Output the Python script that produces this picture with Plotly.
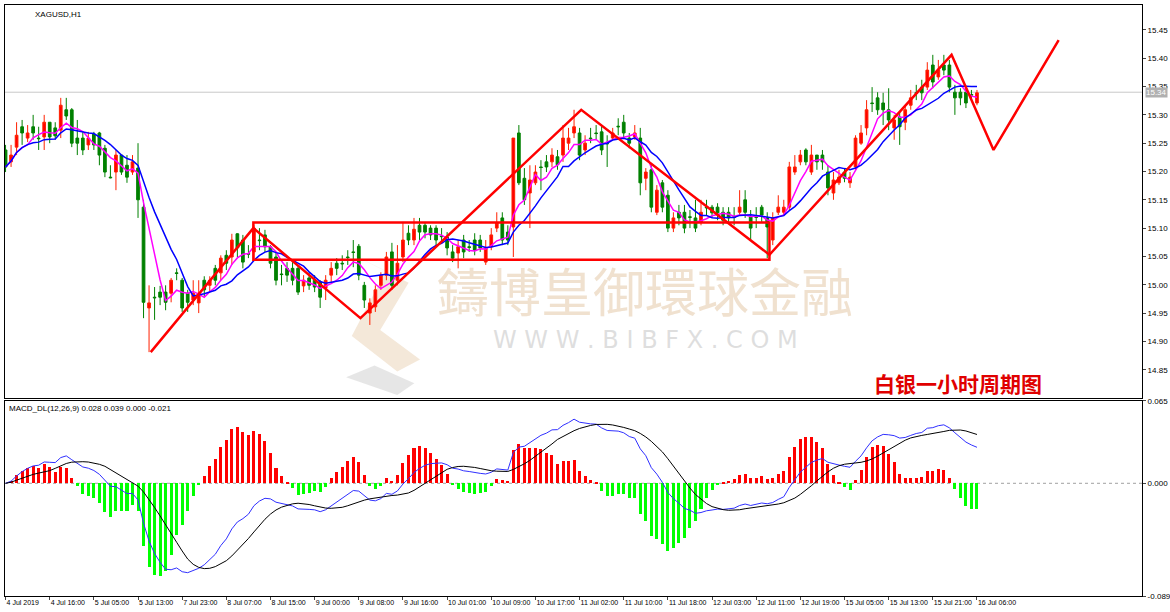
import numpy as np
import pandas as pd
import plotly.graph_objects as go

# XAGUSD H1, candles (index = bar number)
opens = [15.238, 15.217, 15.243, 15.279, 15.259, 15.279, 15.259, 15.261, 15.287, 15.277,
         15.273, 15.309, 15.309, 15.259, 15.259, 15.247, 15.266, 15.268, 15.241, 15.190,
         15.199, 15.229, 15.211, 15.199, 15.206, 15.137, 14.959, 14.978, 14.987, 14.987,
         14.985, 15.021, 15.008, 14.985, 14.973, 14.968, 15.008, 14.999, 15.029, 15.021,
         15.052, 15.049, 15.090, 15.079, 15.055, 15.058, 15.079, 15.088, 15.067, 15.049,
         15.019, 15.029, 15.029, 15.029, 14.998, 15.012, 15.008, 15.005, 14.994, 15.017,
         15.038, 15.038, 15.049, 15.058, 15.068, 14.999, 14.950, 14.961, 14.999, 15.017,
         15.058, 15.008, 15.049, 15.091, 15.079, 15.105, 15.105, 15.100, 15.100, 15.086,
         15.084, 15.058, 15.056, 15.079, 15.067, 15.079, 15.079, 15.040, 15.067, 15.100,
         15.118, 15.093, 15.102, 15.268, 15.188, 15.162, 15.180, 15.208, 15.217, 15.217,
         15.226, 15.229, 15.250, 15.268, 15.268, 15.238, 15.259, 15.268, 15.270, 15.250,
         15.259, 15.280, 15.287, 15.259, 15.261, 15.259, 15.188, 15.203, 15.128, 15.180,
         15.158, 15.100, 15.128, 15.128, 15.120, 15.118, 15.111, 15.137, 15.137, 15.137,
         15.128, 15.128, 15.120, 15.128, 15.150, 15.120, 15.120, 15.137, 15.118, 15.079,
         15.128, 15.128, 15.137, 15.199, 15.217, 15.238, 15.199, 15.229, 15.229, 15.199,
         15.162, 15.180, 15.199, 15.180, 15.208, 15.250, 15.277, 15.321, 15.330, 15.321,
         15.309, 15.277, 15.296, 15.287, 15.317, 15.339, 15.349, 15.349, 15.388, 15.367,
         15.388, 15.388, 15.340, 15.340, 15.340, 15.336, 15.321]
closes = [15.208, 15.229, 15.264, 15.268, 15.268, 15.268, 15.258, 15.287, 15.261, 15.263,
          15.317, 15.298, 15.250, 15.250, 15.238, 15.259, 15.247, 15.229, 15.199, 15.189,
          15.229, 15.199, 15.190, 15.217, 15.150, 14.969, 14.968, 14.977, 14.978, 14.969,
          15.008, 15.020, 14.959, 14.969, 14.985, 14.985, 14.991, 15.008, 15.008, 15.047,
          15.038, 15.079, 15.065, 15.040, 15.054, 15.100, 15.078, 15.067, 15.038, 15.008,
          15.018, 15.017, 15.008, 14.987, 15.008, 14.999, 14.996, 14.978, 15.008, 15.029,
          15.029, 15.037, 15.048, 15.057, 15.017, 14.973, 14.968, 14.991, 15.017, 15.049,
          14.999, 15.038, 15.079, 15.079, 15.098, 15.093, 15.093, 15.088, 15.079, 15.085,
          15.065, 15.047, 15.067, 15.058, 15.066, 15.061, 15.065, 15.065, 15.088, 15.109,
          15.079, 15.079, 15.259, 15.180, 15.150, 15.185, 15.199, 15.207, 15.208, 15.229,
          15.212, 15.259, 15.259, 15.279, 15.229, 15.250, 15.258, 15.267, 15.238, 15.249,
          15.268, 15.279, 15.268, 15.250, 15.268, 15.180, 15.199, 15.137, 15.167, 15.137,
          15.100, 15.118, 15.118, 15.100, 15.119, 15.100, 15.128, 15.136, 15.127, 15.127,
          15.114, 15.118, 15.119, 15.137, 15.128, 15.100, 15.119, 15.123, 15.102, 15.118,
          15.137, 15.137, 15.208, 15.208, 15.229, 15.217, 15.229, 15.217, 15.217, 15.171,
          15.185, 15.190, 15.188, 15.190, 15.259, 15.268, 15.309, 15.320, 15.309, 15.309,
          15.291, 15.291, 15.279, 15.309, 15.330, 15.338, 15.339, 15.379, 15.358, 15.379,
          15.379, 15.349, 15.330, 15.330, 15.321, 15.335, 15.339]
highs = [15.247, 15.247, 15.287, 15.291, 15.282, 15.300, 15.279, 15.300, 15.287, 15.287,
         15.330, 15.330, 15.312, 15.291, 15.270, 15.270, 15.270, 15.270, 15.247, 15.211,
         15.238, 15.229, 15.229, 15.229, 15.250, 15.150, 14.999, 14.996, 14.998, 14.999,
         15.012, 15.029, 15.012, 14.991, 15.008, 15.008, 15.015, 15.015, 15.035, 15.052,
         15.061, 15.090, 15.091, 15.088, 15.070, 15.105, 15.100, 15.097, 15.070, 15.058,
         15.035, 15.040, 15.040, 15.035, 15.017, 15.022, 15.017, 15.008, 15.017, 15.040,
         15.047, 15.052, 15.061, 15.079, 15.072, 15.005, 14.976, 14.999, 15.022, 15.058,
         15.074, 15.070, 15.111, 15.105, 15.118, 15.118, 15.111, 15.105, 15.105, 15.100,
         15.093, 15.070, 15.079, 15.088, 15.079, 15.091, 15.088, 15.079, 15.100, 15.128,
         15.128, 15.105, 15.259, 15.282, 15.206, 15.211, 15.211, 15.220, 15.229, 15.241,
         15.238, 15.282, 15.277, 15.309, 15.277, 15.264, 15.277, 15.282, 15.282, 15.264,
         15.277, 15.294, 15.300, 15.268, 15.282, 15.277, 15.206, 15.211, 15.176, 15.185,
         15.167, 15.128, 15.141, 15.141, 15.132, 15.150, 15.150, 15.150, 15.141, 15.144,
         15.137, 15.137, 15.137, 15.167, 15.167, 15.132, 15.137, 15.141, 15.128, 15.128,
         15.158, 15.150, 15.217, 15.229, 15.238, 15.241, 15.247, 15.229, 15.238, 15.211,
         15.199, 15.203, 15.206, 15.199, 15.264, 15.282, 15.326, 15.349, 15.340, 15.339,
         15.347, 15.300, 15.305, 15.317, 15.344, 15.353, 15.362, 15.393, 15.406, 15.397,
         15.406, 15.397, 15.353, 15.347, 15.347, 15.344, 15.344]
lows = [15.199, 15.208, 15.229, 15.247, 15.252, 15.256, 15.238, 15.238, 15.250, 15.256,
        15.259, 15.291, 15.243, 15.229, 15.229, 15.238, 15.238, 15.211, 15.190, 15.188,
        15.167, 15.194, 15.180, 15.194, 15.118, 14.941, 14.881, 14.938, 14.964, 14.955,
        14.969, 15.008, 14.952, 14.952, 14.964, 14.950, 14.980, 14.987, 14.999, 15.008,
        15.026, 15.035, 15.049, 15.029, 15.047, 15.047, 15.061, 15.058, 15.029, 14.999,
        14.999, 15.005, 14.999, 14.982, 14.987, 14.991, 14.987, 14.959, 14.973, 15.005,
        15.017, 15.026, 15.035, 15.031, 15.008, 14.959, 14.929, 14.952, 14.991, 15.008,
        14.991, 14.999, 15.040, 15.070, 15.070, 15.079, 15.082, 15.079, 15.070, 15.075,
        15.052, 15.040, 15.029, 15.047, 15.058, 15.052, 15.058, 15.035, 15.061, 15.093,
        15.070, 15.070, 15.049, 15.176, 15.141, 15.100, 15.176, 15.167, 15.199, 15.208,
        15.203, 15.217, 15.238, 15.259, 15.220, 15.229, 15.250, 15.256, 15.229, 15.208,
        15.256, 15.264, 15.259, 15.241, 15.256, 15.158, 15.167, 15.128, 15.123, 15.128,
        15.093, 15.093, 15.105, 15.091, 15.100, 15.093, 15.105, 15.123, 15.118, 15.114,
        15.105, 15.111, 15.105, 15.123, 15.118, 15.079, 15.100, 15.111, 15.047, 15.070,
        15.123, 15.123, 15.132, 15.194, 15.211, 15.211, 15.194, 15.203, 15.203, 15.158,
        15.150, 15.176, 15.181, 15.171, 15.203, 15.247, 15.264, 15.305, 15.300, 15.282,
        15.273, 15.256, 15.247, 15.273, 15.309, 15.326, 15.326, 15.344, 15.347, 15.362,
        15.370, 15.340, 15.300, 15.317, 15.312, 15.326, 15.317]

tick_pos = list(range(0, 177, 8))
tick_text = ["4 Jul 2019", "4 Jul 16:00", "5 Jul 05:00", "5 Jul 13:00", "7 Jul 23:00",
             "8 Jul 07:00", "8 Jul 15:00", "9 Jul 00:00", "9 Jul 08:00", "9 Jul 16:00",
             "10 Jul 01:00", "10 Jul 09:00", "10 Jul 17:00", "11 Jul 02:00", "11 Jul 10:00",
             "11 Jul 18:00", "12 Jul 03:00", "12 Jul 11:00", "12 Jul 19:00", "15 Jul 05:00",
             "15 Jul 13:00", "15 Jul 21:00", "16 Jul 06:00"]

# hand-drawn analysis lines (bar index, price)
zig_x = [26.3, 44.9, 64.3, 104.3, 138.4, 171.4, 179.0, 190.8]
zig_y = [14.881, 15.100, 14.941, 15.309, 15.053, 15.406, 15.238, 15.432]
box_x = [44.9, 138.4]
box_y = [15.044, 15.110]
last_price = 15.34

idx = np.arange(len(closes))
c = pd.Series(closes)
ma_fast = c.rolling(5, min_periods=1).mean()
ma_slow = c.rolling(10, min_periods=1).mean()
macd = c.ewm(span=12, adjust=False).mean() - c.ewm(span=26, adjust=False).mean()
signal = macd.rolling(9, min_periods=1).mean()
hist = 2 * (macd - signal)

FONT = "Liberation Sans"
fig = go.Figure()

fig.add_trace(go.Candlestick(
    x=idx, open=opens, high=highs, low=lows, close=closes,
    increasing=dict(line=dict(color="#ff2000", width=1), fillcolor="#ff0000"),
    decreasing=dict(line=dict(color="#008000", width=1), fillcolor="#008000"),
    whiskerwidth=0, xaxis="x", yaxis="y", showlegend=False))
fig.add_trace(go.Scatter(x=idx, y=ma_fast, mode="lines", line=dict(color="#ff00ff", width=1.5),
                         xaxis="x", yaxis="y", showlegend=False))
fig.add_trace(go.Scatter(x=idx, y=ma_slow, mode="lines", line=dict(color="#0000ff", width=1.5),
                         xaxis="x", yaxis="y", showlegend=False))
fig.add_trace(go.Scatter(x=zig_x, y=zig_y, mode="lines", line=dict(color="#ff0000", width=2.5),
                         xaxis="x", yaxis="y", showlegend=False))

fig.add_trace(go.Bar(x=idx, y=hist, width=0.55,
                     marker=dict(color=["#ff0000" if v >= 0 else "#00ff00" for v in hist], line_width=0),
                     xaxis="x2", yaxis="y2", showlegend=False))
fig.add_trace(go.Scatter(x=idx, y=macd, mode="lines", line=dict(color="#3030ff", width=1),
                         xaxis="x2", yaxis="y2", showlegend=False))
fig.add_trace(go.Scatter(x=idx, y=signal, mode="lines", line=dict(color="#000000", width=1),
                         xaxis="x2", yaxis="y2", showlegend=False))

fig.add_shape(type="rect", x0=box_x[0], x1=box_x[1], y0=box_y[0], y1=box_y[1],
              xref="x", yref="y", line=dict(color="#ff0000", width=2.5))
fig.add_shape(type="line", x0=0, x1=1, xref="paper", y0=last_price, y1=last_price, yref="y",
              line=dict(color="#c8c8c8", width=1), layer="below")
fig.add_shape(type="line", x0=0, x1=1, xref="paper", y0=0, y1=0, yref="y2",
              line=dict(color="#a0a0a0", width=1, dash="dot"), layer="below")

# watermark logo
fig.add_shape(type="path", xref="paper", yref="paper", layer="below",
              path="M 0.293 0.59 L 0.335 0.55 L 0.305 0.44 L 0.345 0.38 L 0.365 0.40 L 0.330 0.45 L 0.355 0.53 Z",
              fillcolor="rgba(230,205,170,0.45)", line_width=0)
fig.add_shape(type="path", xref="paper", yref="paper", layer="below",
              path="M 0.300 0.37 L 0.345 0.34 L 0.360 0.36 L 0.325 0.39 Z",
              fillcolor="rgba(200,200,200,0.45)", line_width=0)

fig.add_annotation(text="鑄博皇御環球金融", x=0.563, y=0.518, xref="paper", yref="paper",
                   xanchor="center", showarrow=False,
                   font=dict(family="Noto Sans CJK TC", size=52, color="rgba(225,195,160,0.5)"))
fig.add_annotation(text="W W W . B I B F X . C O M", x=0.563, y=0.433, xref="paper", yref="paper",
                   xanchor="center", showarrow=False,
                   font=dict(family="DejaVu Sans", size=24, color="rgba(200,200,200,0.6)"))
fig.add_annotation(text="<b>白银一小时周期图</b>", x=0.838, y=0.360, xref="paper", yref="paper",
                   xanchor="center", showarrow=False,
                   font=dict(family="Noto Sans CJK SC", size=21, color="#e00000"))
fig.add_annotation(text="XAGUSD,H1", x=0.025, y=0.995, xref="paper", yref="paper", xanchor="left",
                   yanchor="top", showarrow=False, font=dict(family=FONT, size=8, color="#000"))
fig.add_annotation(text="MACD_DL(12,26,9) 0.028 0.039 0.000 -0.021", x=0.002, y=0.328,
                   xref="paper", yref="paper", xanchor="left", yanchor="top", showarrow=False,
                   font=dict(family=FONT, size=8, color="#000"))
fig.add_annotation(text=f"{last_price:.2f}", x=1.0, y=last_price, xref="paper", yref="y",
                   xanchor="left", xshift=3, showarrow=False, bgcolor="#b0b0b0",
                   font=dict(family=FONT, size=8, color="#fff"), borderpad=0)

axis_common = dict(showline=True, linecolor="#000", linewidth=1, mirror=True,
                   showgrid=False, zeroline=False, automargin=False)
xr = [-0.1, 205.9]
fig.update_layout(
    width=1170, height=612,
    margin=dict(l=5, r=28, t=5, b=16),
    paper_bgcolor="white", plot_bgcolor="white",
    bargap=0,
    xaxis=dict(domain=[0, 1], anchor="y", range=xr, showticklabels=False,
               rangeslider=dict(visible=False), **axis_common),
    xaxis2=dict(domain=[0, 1], anchor="y2", matches="x", range=xr,
                tickvals=tick_pos, ticktext=tick_text, ticks="outside", ticklen=3,
                tickangle=0, ticklabelposition="outside right",
                tickfont=dict(family=FONT, size=7, color="#000"), **axis_common),
    yaxis=dict(domain=[0.335, 1], range=[14.80, 15.494], side="right",
               tickvals=[round(14.85 + 0.05 * k, 2) for k in range(13)], tickformat=".2f",
               ticks="outside", ticklen=3, tickfont=dict(family=FONT, size=8, color="#000"),
               **axis_common),
    yaxis2=dict(domain=[0, 0.330], range=[-0.089, 0.065], side="right",
                tickvals=[0.065, 0.0, -0.089], ticktext=["0.065", "0.000", "-0.089"],
                ticks="outside", ticklen=3, tickfont=dict(family=FONT, size=8, color="#000"),
                **axis_common),
)

fig.write_html("out.html", config={"displayModeBar": False},
               post_script="document.body.style.margin='0';")
